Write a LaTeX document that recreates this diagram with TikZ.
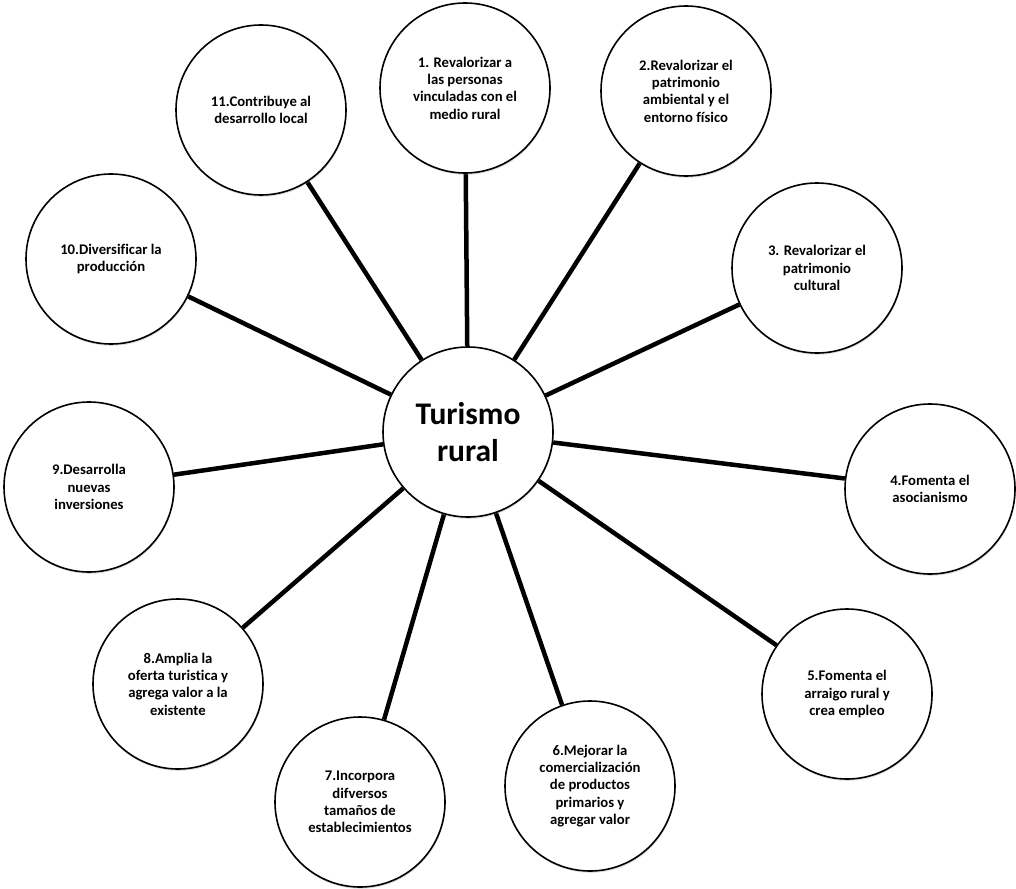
\documentclass[tikz,border=0pt]{standalone}
\usepackage{fontspec}
\setmainfont{Carlito}[Ligatures=CommonOff]
\usetikzlibrary{backgrounds,shadows}

\begin{document}
\begin{tikzpicture}[
    x=1pt, y=-1pt,
    every node/.style={font=\bfseries},
    hub/.style={
        circle,
        draw=black,
        line width=1.6pt,
        fill=white,
        minimum size=170pt,
        inner sep=0pt,
        align=center,
        font=\fontsize{31.5}{37}\selectfont\bfseries,
        drop shadow={shadow xshift=0.6pt, shadow yshift=-1.8pt, opacity=0.25},
    },
    goal/.style={
        circle,
        draw=black,
        line width=1.6pt,
        fill=white,
        minimum size=170pt,
        inner sep=0pt,
        align=center,
        font=\fontsize{14.7}{17.4}\selectfont\bfseries,
        drop shadow={shadow xshift=0.6pt, shadow yshift=-1.8pt, opacity=0.25},
    },
    spoke/.style={line width=4.5pt, color=black},
]

\useasboundingbox (0,0) rectangle (1016,888);

% === Center ===
\node[hub] (turismo) at (468,432) {Turismo\\rural};

% === Outer circles ===
\node[goal] (g1) at (465,88) {1. Revalorizar a\\las personas\\vinculadas con el\\medio rural};
\node[goal] (g2) at (686,91) {2.Revalorizar el\\patrimonio\\ambiental y el\\entorno físico};
\node[goal] (g3) at (817,268) {3. Revalorizar el\\patrimonio\\cultural};
\node[goal] (g4) at (930,489) {4.Fomenta el\\asocianismo};
\node[goal] (g5) at (847,694) {5.Fomenta el\\arraigo rural y\\crea empleo};
\node[goal] (g6) at (590,786) {6.Mejorar la\\comercialización\\de productos\\primarios y\\agregar valor};
\node[goal] (g7) at (360,802) {7.Incorpora\\difversos\\tamaños de\\establecimientos};
\node[goal] (g8) at (178,684) {8.Amplia la\\oferta turistica y\\agrega valor a la\\existente};
\node[goal] (g9) at (89,487) {9.Desarrolla\\nuevas\\inversiones};
\node[goal] (g10) at (111,259) {10.Diversificar la\\producción};
\node[goal] (g11) at (261,110) {11.Contribuye al\\desarrollo local};

% === Spokes ===
\begin{scope}[on background layer]
    \draw[spoke] (turismo) -- (g1);
    \draw[spoke] (turismo) -- (g2);
    \draw[spoke] (turismo) -- (g3);
    \draw[spoke] (turismo) -- (g4);
    \draw[spoke] (turismo) -- (g5);
    \draw[spoke] (turismo) -- (g6);
    \draw[spoke] (turismo) -- (g7);
    \draw[spoke] (turismo) -- (g8);
    \draw[spoke] (turismo) -- (g9);
    \draw[spoke] (turismo) -- (g10);
    \draw[spoke] (turismo) -- (g11);
\end{scope}

\end{tikzpicture}
\end{document}
